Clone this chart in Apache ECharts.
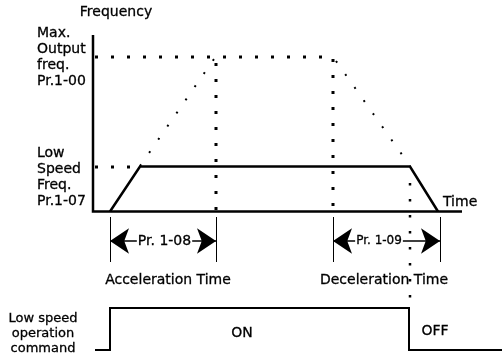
<!DOCTYPE html>
<html>
<head>
<meta charset="utf-8">
<script src="https://cdn.jsdelivr.net/npm/echarts@6/dist/echarts.min.js"></script>
<style>html,body{margin:0;padding:0;background:#fff}#c{width:502px;height:358px}</style>
</head>
<body>
<div id="c"></div>
<script>
// Diagram coordinates (x: time to the right, y: downward on the page)
const axisLine = [[93, 35], [93, 211.5], [462, 211.5]];
const freqProfile = [[110, 211.5], [140, 166.5], [410, 166.5], [438, 211.5]];
const commandSignal = [[95, 350], [110, 350], [110, 308], [409, 308], [409, 350], [502, 350]];
const maxFreqGuide = [[95, 57], [333, 57]];
const lowFreqGuide = [[95, 167], [140, 167]];
const accelEndGuide = [[216, 63], [216, 210]];
const decelStartGuide = [[333, 59], [333, 210]];
const offGuide = [[410, 183], [410, 300]];
const accelDotted = [[140, 166], [214, 59]];
const decelDotted = [[336, 61], [410, 166]];
const bracketTicks = [110, 216, 333, 440];
const bracketTop = 217, bracketBottom = 262, bracketY = 241;
const accelSpan = [110, 216];
const decelSpan = [333, 440];

const texts = [
  {name: 'Frequency', value: [116, 12], align: 'center', size: 14},
  {name: 'Max.\nOutput\nfreq.\nPr.1-00', value: [37, 57.5], align: 'left', size: 14},
  {name: 'Low\nSpeed\nFreq.\nPr.1-07', value: [37, 177], align: 'left', size: 14},
  {name: 'Time', value: [443, 202], align: 'left', size: 14},
  {name: 'Acceleration Time', value: [168, 280], align: 'center', size: 14},
  {name: 'Deceleration Time', value: [384, 280], align: 'center', size: 14},
  {name: 'Low speed\noperation\ncommand', value: [43, 334], align: 'center', size: 13, lh: 15},
  {name: 'ON', value: [242, 333], align: 'center', size: 14},
  {name: 'OFF', value: [435, 331], align: 'center', size: 14}
];
const spanTexts = [
  {name: 'Pr. 1-08', value: [164.5, 241], size: 14},
  {name: 'Pr. 1-09', value: [379, 241], size: 12}
];

const FONT = 'DejaVu Sans';
const INK = '#000';
const DOT_PERIOD = 16;
function solid(data, w) {
  return {type: 'line', data, symbol: 'none', silent: true, animation: false,
    lineStyle: {color: INK, width: w, cap: 'butt', join: 'miter'}};
}
function dotted(data, w) {
  return {type: 'line', data, symbol: 'none', silent: true, animation: false,
    lineStyle: {color: INK, width: w, type: [w, DOT_PERIOD - w], cap: 'butt'}};
}
const series = [
  solid(axisLine, 2.5),
  solid(freqProfile, 2.5),
  solid(commandSignal, 2),
  dotted(maxFreqGuide, 3),
  dotted(lowFreqGuide, 3),
  dotted(accelEndGuide, 3),
  dotted(decelStartGuide, 3),
  dotted(offGuide, 2.5),
  dotted(accelDotted, 2),
  dotted(decelDotted, 2)
];
bracketTicks.forEach(x => series.push(solid([[x + 0.5, bracketTop], [x + 0.5, bracketBottom]], 1)));
const AH = 19;
[accelSpan, decelSpan].forEach(s => {
  series.push({type: 'lines', coordinateSystem: 'cartesian2d', silent: true, animation: false,
    symbol: ['arrow', 'arrow'], symbolSize: AH,
    lineStyle: {color: INK, width: 1.5, opacity: 1, curveness: 0},
    itemStyle: {color: INK},
    data: [{coords: [[s[0], bracketY], [s[1], bracketY]]}]});
});
const labelBase = {show: true, position: 'inside', formatter: '{b}', color: INK, fontFamily: FONT,
  textBorderColor: INK, textBorderWidth: 0.3, opacity: 1, verticalAlign: 'middle'};
series.push({type: 'scatter', z: 10, symbolSize: 0, silent: true, animation: false,
  itemStyle: {opacity: 1},
  data: texts.map(t => ({name: t.name, value: t.value,
    label: Object.assign({}, labelBase, {fontSize: t.size, lineHeight: t.lh || 16, align: t.align})}))});
series.push({type: 'scatter', z: 10, symbolSize: 0, silent: true, animation: false,
  itemStyle: {opacity: 1},
  data: spanTexts.map(t => ({name: t.name, value: t.value,
    label: Object.assign({}, labelBase, {fontSize: t.size, align: 'center',
      backgroundColor: '#fff', padding: [1, 1]})}))});

const chart = echarts.init(document.getElementById('c'), null, {renderer: 'canvas'});
chart.setOption({
  animation: false,
  grid: {left: 0, right: 0, top: 0, bottom: 0},
  xAxis: {type: 'value', min: 0, max: 502, show: false},
  yAxis: {type: 'value', min: 0, max: 358, inverse: true, show: false},
  series
});
</script>
</body>
</html>
